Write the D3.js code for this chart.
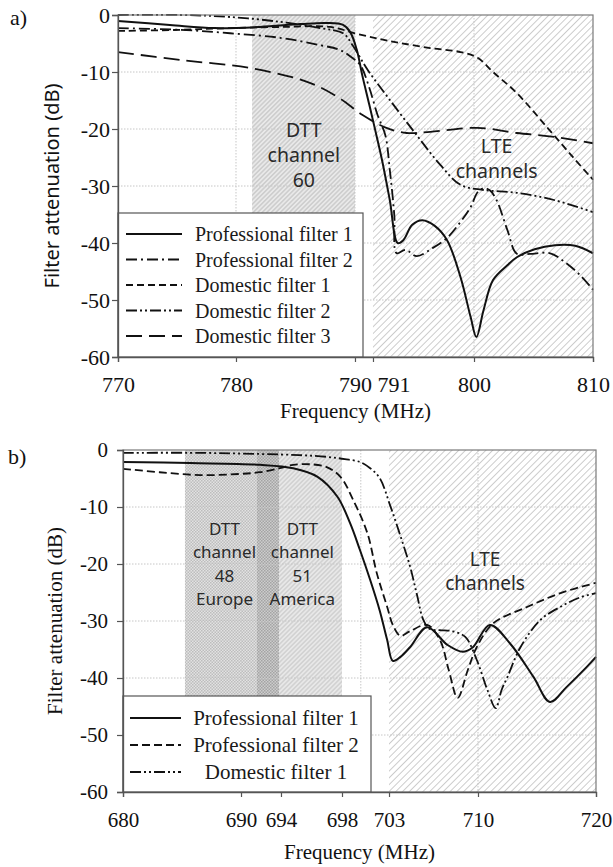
<!DOCTYPE html>
<html>
<head>
<meta charset="utf-8">
<script src="https://cdn.jsdelivr.net/npm/d3@7"></script>
<style>
  body { margin: 0; background: #fff; }
</style>
</head>
<body>
<div id="chart"></div>
<script>
/*
*  Filter attenuation vs frequency, two panels (a: 790 MHz band, b: 700 MHz band)
*/

// ---------- data, panel a ----------
var ticksA = [770, 780, 790, 791, 800, 810];
var gridXA = [780, 790, 800];
var namesA = ["Professional filter 1", "Professional filter 2", "Domestic filter 1", "Domestic filter 2", "Domestic filter 3"];

var pro1A_f  = [770, 774.4, 778.2, 782.0, 785.4, 787.6, 789.0, 789.6, 790.1, 790.4, 790.8, 791.2, 791.8, 792.5, 793.2, 793.7, 794.5, 795.4, 796.5, 797.6, 798.8, 799.7, 800.2, 800.8, 801.6, 802.8, 803.6, 805.1, 806.8, 808.5, 810];
var pro1A_db = [-1.05, -1.75, -2.3, -2.1, -1.6, -1.4, -1.75, -3.0, -6.1, -10.5, -15.8, -20.2, -25.4, -32.5, -40.0, -39.5, -36.8, -36.0, -37.0, -39.5, -46.0, -53.0, -56.5, -51.8, -46.5, -43.9, -42.5, -41.1, -40.4, -40.5, -41.8];

var pro2A_f  = [770, 775.3, 779.5, 783.7, 787.1, 788.7, 789.7, 790.3, 790.8, 791.4, 792.1, 792.5, 792.9, 793.1, 793.9, 794.9, 796.3, 797.6, 798.8, 799.7, 800.3, 800.8, 801.3, 801.9, 802.8, 803.6, 804.7, 806.4, 807.6, 808.9, 810];
var pro2A_db = [-2.3, -2.6, -3.2, -4.0, -5.3, -6.1, -7.4, -8.8, -12.8, -17.5, -21.1, -27.2, -35.1, -41.8, -41.2, -42.3, -40.9, -39.1, -36.3, -33.7, -31.1, -30.4, -30.7, -32.5, -37.7, -41.9, -41.9, -41.8, -43.3, -45.6, -48.2];

var dom1A_f  = [770, 775.3, 779.5, 783.7, 787.9, 790.1, 791.6, 793.4, 796.1, 798.8, 800.3, 801.6, 803.6, 806.1, 808.3, 810];
var dom1A_db = [-2.8, -2.6, -2.3, -2.1, -2.1, -3.3, -4.2, -4.9, -5.8, -6.5, -7.5, -10.0, -13.7, -19.6, -24.9, -28.9];

var dom2A_f  = [770, 775.3, 779.5, 783.7, 787.1, 789.0, 789.8, 790.7, 792.5, 794.9, 797.0, 798.8, 800.8, 803.6, 806.8, 810];
var dom2A_db = [0, 0, -0.35, -1.2, -2.3, -3.2, -5.3, -9.6, -14.9, -21.1, -26.3, -29.8, -30.7, -31.2, -32.5, -34.6];

var dom3A_f  = [770, 775.3, 781.2, 786.2, 788.7, 790.4, 792.2, 794.0, 796.1, 800.3, 803.6, 806.8, 810];
var dom3A_db = [-6.5, -7.9, -9.3, -11.9, -14.6, -17.5, -19.8, -20.7, -20.5, -19.8, -20.7, -21.4, -22.5];

var dttA = [781.35, 790];
var lteA = [791, 810];

// ---------- data, panel b ----------
var ticksB = [680, 690, 694, 698, 703, 710, 720];
var gridXB = [690, 700, 710];
var namesB = ["Professional filter 1", "Professional filter 2", "Domestic filter 1"];

var pro1B_f  = [680, 685.7, 691.9, 694.8, 696.4, 697.7, 698.85, 699.9, 701.0, 702.0, 702.8, 703.3, 703.9, 704.65, 706.0, 707.6, 708.8, 709.6, 711.0, 712.7, 714.7, 716.1, 717.5, 719.2, 720];
var pro1B_db = [-2.1, -2.3, -2.6, -3.2, -4.7, -8.2, -12.8, -17.5, -22.8, -28.1, -33.3, -37.0, -36.3, -34.6, -31.1, -34.2, -35.4, -34.6, -30.7, -33.9, -39.8, -44.2, -41.6, -38.1, -36.3];

var pro2B_f  = [680, 683.1, 686.5, 689.9, 691.9, 693.9, 694.8, 695.9, 697.0, 697.9, 699.2, 700.7, 701.7, 702.8, 703.3, 703.9, 704.65, 706.0, 707.0, 707.7, 708.4, 709.2, 709.9, 711.3, 714.2, 717.0, 720];
var pro2B_db = [-3.3, -3.9, -4.4, -4.2, -3.9, -3.2, -2.6, -2.5, -3.0, -4.7, -8.8, -14.6, -21.6, -27.5, -30.7, -32.6, -31.8, -30.7, -33.3, -38.6, -43.5, -38.6, -34.6, -30.4, -27.5, -25.1, -23.3];

var dom1B_f  = [680, 686.5, 691.9, 695.2, 697.0, 698.3, 699.9, 701.0, 702.0, 703.1, 703.9, 704.65, 705.2, 705.7, 706.2, 707.0, 708.0, 709.0, 709.9, 710.8, 711.5, 712.0, 712.5, 713.6, 715.3, 717.0, 718.6, 720];
var dom1B_db = [-0.5, -0.5, -0.7, -0.9, -1.2, -1.6, -2.1, -3.2, -4.9, -9.8, -15.1, -20.4, -25.4, -29.8, -31.4, -31.6, -31.8, -32.8, -36.8, -42.1, -45.3, -42.1, -39.8, -34.6, -29.8, -27.5, -25.9, -25.1];

var europeB = [685.25, 693.8];
var americaB = [691.6, 698];
var lteB = [703, 720];

var yTicks = [-60, -50, -40, -30, -20, -10, 0];
var gridY = [-50, -40, -30, -20, -10];

// ---------- svg + patterns ----------
var svg = d3.select("#chart").append("svg")
    .attr("width", 613)
    .attr("height", 867);
var defs = svg.append("defs");

function hatch(id, bg, color, gap, sw) {
  var p = defs.append("pattern").attr("id", id)
      .attr("patternUnits", "userSpaceOnUse")
      .attr("width", gap).attr("height", gap)
      .attr("patternTransform", "rotate(45)");
  p.append("rect").attr("width", gap).attr("height", gap).attr("fill", bg);
  p.append("line").attr("x1", gap / 2).attr("x2", gap / 2).attr("y1", 0).attr("y2", gap)
      .attr("stroke", color).attr("stroke-width", sw);
}
function checker(id, bg, color, s) {
  var p = defs.append("pattern").attr("id", id)
      .attr("patternUnits", "userSpaceOnUse")
      .attr("width", 2 * s).attr("height", 2 * s);
  p.append("rect").attr("width", 2 * s).attr("height", 2 * s).attr("fill", bg);
  p.append("rect").attr("width", s).attr("height", s).attr("fill", color);
  p.append("rect").attr("x", s).attr("y", s).attr("width", s).attr("height", s).attr("fill", color);
}
hatch("hDttA", "#e9e9e9", "#b4b4b4", 3.2, 0.8);
hatch("hLte", "#ffffff", "#c0c0c0", 4.8, 0.8);
hatch("hAm", "#e8e8e8", "#bdbdbd", 3.2, 0.8);
checker("cEu", "#e2e2e2", "#bdbdbd", 1.5);
checker("cOv", "#cdcdcd", "#a4a4a4", 1.5);

var serif = "'Liberation Serif', 'Times New Roman', serif";
var sans = "'Noto Sans', 'DejaVu Sans', sans-serif";

function zip(f, v) { return f.map(function(d, i) { return {f: d, v: v[i]}; }); }

function drawPanel(c) {
  var g = svg.append("g").attr("transform", "translate(" + c.left + "," + c.top + ")");

  // uneven tick spacing on the original x axis -> piecewise linear scale
  var x = d3.scaleLinear().domain(c.ticks).range(c.tickFrac.map(function(t) { return t * c.w; }));
  var y = d3.scaleLinear().domain([-60, 0]).range([c.h, 0]);

  // shaded bands
  c.bands.forEach(function(b) {
    g.append("rect")
      .attr("x", x(b.r[0])).attr("width", x(b.r[1]) - x(b.r[0]))
      .attr("y", 0).attr("height", c.h)
      .attr("fill", "url(#" + b.fill + ")");
  });

  // grid
  g.selectAll(".gy").data(gridY).enter().append("line")
    .attr("x1", 0).attr("x2", c.w)
    .attr("y1", function(d) { return y(d); }).attr("y2", function(d) { return y(d); })
    .attr("stroke", "#c6c6c6").attr("stroke-dasharray", "1.5,1.5");
  g.selectAll(".gx").data(c.gridX).enter().append("line")
    .attr("y1", 0).attr("y2", c.h)
    .attr("x1", function(d) { return x(d); }).attr("x2", function(d) { return x(d); })
    .attr("stroke", "#c6c6c6").attr("stroke-dasharray", "1.5,1.5");

  // band labels
  c.notes.forEach(function(n) {
    var t = g.append("text")
      .attr("x", x(n.f)).attr("y", y(n.v))
      .attr("text-anchor", "middle")
      .attr("font-family", sans).attr("font-size", n.size + "px")
      .attr("fill", "#2a2a2a");
    n.lines.forEach(function(s, i) {
      t.append("tspan").attr("x", x(n.f)).attr("dy", i == 0 ? 0 : n.lh).text(s);
    });
  });

  // curves
  var line = d3.line()
    .x(function(d) { return x(d.f); })
    .y(function(d) { return y(d.v); })
    .curve(d3.curveCatmullRom.alpha(0.5));
  c.series.forEach(function(s) {
    g.append("path")
      .attr("d", line(zip(s.f, s.v)))
      .attr("fill", "none")
      .attr("stroke", "#111")
      .attr("stroke-width", s.dash ? 1.8 : 2.0)
      .attr("stroke-dasharray", s.dash);
  });

  // frame
  g.append("rect").attr("width", c.w).attr("height", c.h)
    .attr("fill", "none").attr("stroke", "#7a7a7a").attr("stroke-width", 1.2);

  // legend
  var L = c.legend;
  g.append("rect").attr("x", 0).attr("y", L.top).attr("width", L.w).attr("height", c.h - L.top)
    .attr("fill", "#fff").attr("stroke", "#555").attr("stroke-width", 1.2);
  c.series.forEach(function(s, i) {
    var yy = L.top + L.first + i * L.step;
    g.append("line").attr("x1", L.x1).attr("x2", L.x2).attr("y1", yy).attr("y2", yy)
      .attr("stroke", "#111").attr("stroke-width", s.dash ? 1.8 : 2.0)
      .attr("stroke-dasharray", s.dash);
    g.append("text")
      .attr("x", L.center ? (L.x2 + L.w) / 2 : L.tx)
      .attr("y", yy).attr("dy", "0.35em")
      .attr("text-anchor", L.center ? "middle" : "start")
      .attr("font-family", serif).attr("font-size", L.size + "px")
      .attr("fill", "#1a1a1a")
      .text(s.name);
  });

  // axes
  var yAxis = d3.axisLeft(y).tickValues(yTicks).tickSize(6).tickPadding(c.yPad)
    .tickFormat(function(d) { return d; });
  var ya = g.append("g").call(yAxis);
  var xAxis = d3.axisBottom(x).tickValues(c.ticks).tickSize(5).tickPadding(c.xPad)
    .tickFormat(function(d) { return d; });
  var xa = g.append("g").attr("transform", "translate(0," + c.h + ")").call(xAxis);
  [ya, xa].forEach(function(a) {
    a.select(".domain").attr("stroke", "#555").attr("stroke-width", 1.3);
    a.selectAll(".tick line").attr("stroke", "#555").attr("stroke-width", 1.2);
    a.selectAll("text").attr("font-family", serif).attr("font-size", c.tickSize + "px").attr("fill", "#111");
  });
  // crowded tick label (791 next to 790) sits to the right of its tick
  xa.selectAll(".tick text")
    .filter(function(d) { return (c.shiftTicks || []).indexOf(d) >= 0; })
    .attr("text-anchor", "start").attr("dx", 4);

  // axis titles
  g.append("text")
    .attr("transform", "translate(" + c.yLabelX + "," + (c.h / 2) + ") rotate(-90)")
    .attr("text-anchor", "middle").attr("dy", "0.35em")
    .attr("font-family", c.yFont).attr("font-size", c.yLabelSize + "px")
    .attr("fill", "#111")
    .text("Filter attenuation (dB)");
  g.append("text")
    .attr("x", c.w / 2).attr("y", c.h + c.xLabelY)
    .attr("text-anchor", "middle")
    .attr("font-family", serif).attr("font-size", "21px")
    .attr("fill", "#111")
    .text("Frequency (MHz)");
  g.append("text")
    .attr("x", c.tagX).attr("y", c.tagY)
    .attr("font-family", serif).attr("font-size", "22px")
    .attr("fill", "#111")
    .text(c.tag);
}

drawPanel({
  tag: "a)", tagX: -108, tagY: 10,
  left: 118, top: 15, w: 475, h: 342,
  ticks: ticksA, tickFrac: [0, 0.2484, 0.4989, 0.5368, 0.7495, 1],
  shiftTicks: [791],
  gridX: gridXA,
  bands: [{r: dttA, fill: "hDttA"}, {r: lteA, fill: "hLte"}],
  notes: [
    {lines: ["DTT", "channel", "60"], f: 785.7, v: -21.4, lh: 25, size: 19.5},
    {lines: ["LTE", "channels"], f: 801.9, v: -24.2, lh: 25, size: 19.5}
  ],
  series: [
    {name: namesA[0], f: pro1A_f, v: pro1A_db, dash: null},
    {name: namesA[1], f: pro2A_f, v: pro2A_db, dash: "11,4,2,4"},
    {name: namesA[2], f: dom1A_f, v: dom1A_db, dash: "7,4"},
    {name: namesA[3], f: dom2A_f, v: dom2A_db, dash: "11,3,2,3,2,3"},
    {name: namesA[4], f: dom3A_f, v: dom3A_db, dash: "16,7"}
  ],
  legend: {top: 198, w: 245, first: 21, step: 25.5, x1: 8, x2: 64, tx: 77, size: 20, center: false},
  yPad: 2, xPad: 14, tickSize: 22,
  yLabelX: -66, yFont: sans, yLabelSize: 20,
  xLabelY: 61
});

drawPanel({
  tag: "b)", tagX: -115, tagY: 14,
  left: 123, top: 450, w: 473, h: 342,
  ticks: ticksB, tickFrac: [0, 0.2495, 0.3340, 0.4630, 0.5624, 0.7505, 1],
  gridX: gridXB,
  bands: [
    {r: europeB, fill: "cEu"},
    {r: americaB, fill: "hAm"},
    {r: [Math.max(europeB[0], americaB[0]), Math.min(europeB[1], americaB[1])], fill: "cOv"},
    {r: lteB, fill: "hLte"}
  ],
  notes: [
    {lines: ["DTT", "channel", "48", "Europe"], f: 688.6, v: -14.9, lh: 23.5, size: 17},
    {lines: ["DTT", "channel", "51", "America"], f: 695.4, v: -14.9, lh: 23.5, size: 17},
    {lines: ["LTE", "channels"], f: 710.6, v: -20.3, lh: 24.5, size: 19}
  ],
  series: [
    {name: namesB[0], f: pro1B_f, v: pro1B_db, dash: null},
    {name: namesB[1], f: pro2B_f, v: pro2B_db, dash: "8,4"},
    {name: namesB[2], f: dom1B_f, v: dom1B_db, dash: "11,3,2,3,2,3"}
  ],
  legend: {top: 246, w: 248, first: 22, step: 27, x1: 7, x2: 58, size: 21, center: true},
  yPad: 9, xPad: 15, tickSize: 21,
  yLabelX: -68, yFont: serif, yLabelSize: 21,
  xLabelY: 67
});
</script>
</body>
</html>
